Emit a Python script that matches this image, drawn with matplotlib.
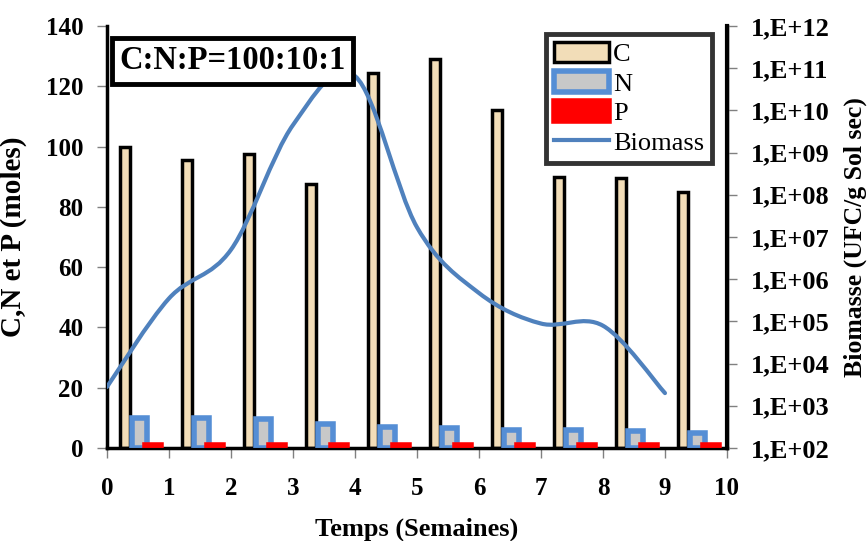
import numpy as np
import matplotlib
matplotlib.use("Agg")
import matplotlib.pyplot as plt
from matplotlib.path import Path
from matplotlib.patches import PathPatch
from matplotlib.lines import Line2D

plt.rcParams['font.family'] = ['Liberation Serif', 'DejaVu Serif']

# Données
semaines = np.arange(10)
carbone = [100, 95.5, 97.5, 87.5, 124.5, 129, 112, 90, 89.5, 85]
azote = [10, 10, 9.5, 8, 7, 6.5, 6, 6, 5.5, 5]
phosphore = [1, 1, 1, 1, 1, 1, 1, 1, 1, 1]
biomasse = [2.8e3, 3.5e5, 5.0e6, 4.5e9, 6.5e10, 1.7e7, 4.7e5, 8.9e4, 7.9e4, 2.0e3]

fig = plt.figure(figsize=(8.67, 5.41), dpi=100)
ax = fig.add_axes([0.1234, 0.1719, 0.7151, 0.7801])

ax.bar(semaines + 0.29, carbone, width=0.16, color='#F2DDB8', edgecolor='black',
       linewidth=2.5, label='C', zorder=2)
ax.bar(semaines + 0.52, azote, width=0.24, color='#C8C8C8', edgecolor='#558ED5',
       linewidth=4, label='N', zorder=3)
ax.bar(semaines + 0.74, phosphore, width=0.25, color='#FF0000', edgecolor='#FF0000',
       linewidth=4, label='P', zorder=4)

ax.set_xlim(0, 10)
ax.set_ylim(0, 140)
ax.set_xticks(range(11))
ax.set_yticks(range(0, 141, 20))
ax.tick_params(axis='both', direction='out', length=7, width=1, color='#808080',
               labelsize=18)
ax.tick_params(axis='x', pad=14)
ax.tick_params(axis='y', pad=10)
for lab in ax.get_xticklabels() + ax.get_yticklabels():
    lab.set_fontweight('bold')
ax.spines['top'].set_visible(False)
for s in ['left', 'bottom', 'right']:
    ax.spines[s].set_linewidth(2.5)
ax.set_ylabel('C,N et P (moles)', fontsize=21, fontweight='bold')
ax.yaxis.set_label_coords(-0.129, 0.5)
ax.set_xlabel('Temps (Semaines)', fontsize=19, fontweight='bold', va='top')
ax.xaxis.set_label_coords(0.5, -0.165)

# axe de droite : biomasse en log10
ax2 = ax.twinx()
ax2.set_ylim(2, 12)
ax2.set_yticks(range(2, 13))
ax2.set_yticklabels(['1,E+%02d' % k for k in range(2, 13)], fontweight='bold')
ax2.tick_params(axis='y', direction='out', length=7, width=1, color='#808080',
                labelsize=19, pad=10)
ax2.spines['top'].set_visible(False)
ax2.spines['right'].set_linewidth(3)
ax2.set_ylabel('Biomasse (UFC/g Sol sec)', fontsize=18.5, fontweight='bold')
ax2.yaxis.set_label_coords(1.188, 0.5)

# courbe lissée (Catmull-Rom -> Bezier)
y = np.log10(biomasse)
x = semaines.astype(float)
n = len(x)
verts = [(x[0], y[0])]
codes = [Path.MOVETO]
for i in range(n - 1):
    yp = y[i - 1] if i > 0 else y[i]
    yn = y[i + 2] if i + 2 < n else y[i + 1]
    xp = x[i - 1] if i > 0 else x[i]
    xn = x[i + 2] if i + 2 < n else x[i + 1]
    c1 = (x[i] + (x[i + 1] - xp) / 6, y[i] + (y[i + 1] - yp) / 6)
    c2 = (x[i + 1] - (xn - x[i]) / 6, y[i + 1] - (yn - y[i]) / 6)
    verts += [c1, c2, (x[i + 1], y[i + 1])]
    codes += [Path.CURVE4] * 3
ax2.add_patch(PathPatch(Path(verts, codes), facecolor='none', edgecolor='#4F81BD',
                        linewidth=3, capstyle='round', zorder=5))

handles, labels = ax.get_legend_handles_labels()
handles.append(Line2D([], [], color='#4F81BD', linewidth=3))
labels.append('Biomass')
leg = ax2.legend(handles, labels, loc='upper right', bbox_to_anchor=(0.976, 0.981),
                 fontsize=19, frameon=True, fancybox=False, handlelength=2.1,
                 handleheight=0.8, handletextpad=0.15, labelspacing=0.2,
                 borderpad=0.3, borderaxespad=0)
leg.get_frame().set_edgecolor('black')
leg.get_frame().set_linewidth(3.5)

ax2.text(0.203, 0.917, 'C:N:P=100:10:1', transform=ax2.transAxes, fontsize=23.5,
         fontweight='bold', ha='center', va='center', zorder=6,
         bbox=dict(boxstyle='square,pad=0.22', facecolor='white', edgecolor='black',
                   linewidth=3.5))

fig.savefig('out.png', dpi=100)
